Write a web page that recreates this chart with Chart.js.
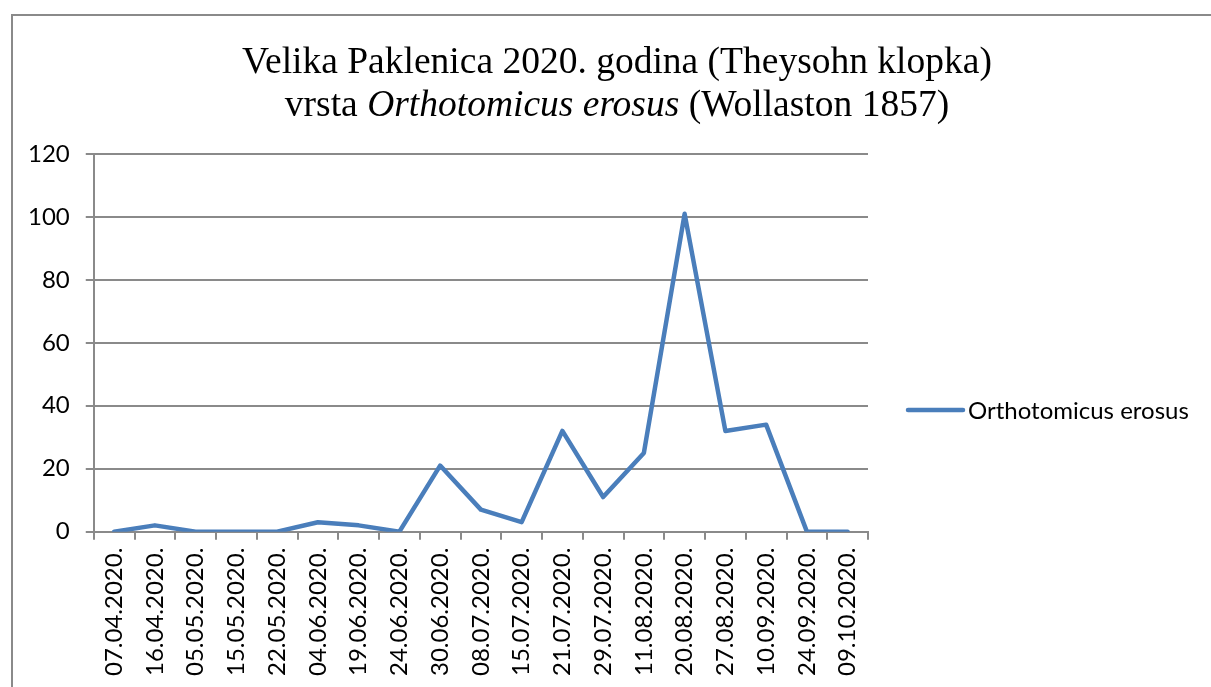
<!DOCTYPE html>
<html lang="hr">
<head>
    <meta charset="UTF-8">
    <title>Velika Paklenica 2020 - Orthotomicus erosus</title>
    <style>
        * { margin: 0; padding: 0; box-sizing: border-box; }
        body { background: #fff; }
        .chart-box { width: 1211px; height: 687px; position: relative; }
    </style>
</head>
<body>
    <div class="chart-box">
        <canvas id="ulovChart"></canvas>
    </div>

    <script src="https://cdn.jsdelivr.net/npm/chart.js"></script>
    <script>
        // Datumi pražnjenja klopke i broj ulovljenih jedinki
        const datumi = ["07.04.2020.", "16.04.2020.", "05.05.2020.", "15.05.2020.", "22.05.2020.",
            "04.06.2020.", "19.06.2020.", "24.06.2020.", "30.06.2020.", "08.07.2020.",
            "15.07.2020.", "21.07.2020.", "29.07.2020.", "11.08.2020.", "20.08.2020.",
            "27.08.2020.", "10.09.2020.", "24.09.2020.", "09.10.2020."];
        const ulov = [0, 2, 0, 0, 0, 3, 2, 0, 21, 7, 3, 32, 11, 25, 101, 32, 34, 0, 0];
        const vrsta = "Orthotomicus erosus";
        const yMax = 120;
        const yKorak = 20;

        const sivo = "#8a8a8a";
        const plavo = "#4a7ebb";
        const labelFont = "Lato";

        // okvir grafikona, naslov u dva reda (drugi red djelomično kurzivom) i legenda desno
        const okvirINaslov = {
            id: "okvirINaslov",
            beforeDraw(chart) {
                const ctx = chart.ctx;
                ctx.save();
                ctx.strokeStyle = sivo;
                ctx.lineWidth = 2;
                ctx.strokeRect(12, 15, 1400, 900);
                ctx.restore();
            },
            afterDraw(chart) {
                const ctx = chart.ctx;
                const cx = 617;
                ctx.save();
                ctx.fillStyle = "#000";
                ctx.textBaseline = "alphabetic";
                ctx.textAlign = "left";

                const obican = "37.5px 'Liberation Serif'";
                const kurziv = "italic 37.5px 'Liberation Serif'";

                ctx.font = obican;
                const red1 = "Velika Paklenica 2020. godina (Theysohn klopka)";
                ctx.fillText(red1, cx - ctx.measureText(red1).width / 2, 73);

                const dijelovi = [["vrsta ", obican], [vrsta, kurziv], [" (Wollaston 1857)", obican]];
                let ukupno = 0;
                dijelovi.forEach(d => { ctx.font = d[1]; ukupno += ctx.measureText(d[0]).width; });
                let x = cx - ukupno / 2;
                dijelovi.forEach(d => {
                    ctx.font = d[1];
                    ctx.fillText(d[0], x, 116);
                    x += ctx.measureText(d[0]).width;
                });

                // legenda
                const ds = chart.data.datasets[0];
                const ly = 410;
                const lx = chart.chartArea.right + 40;
                ctx.strokeStyle = ds.borderColor;
                ctx.lineWidth = ds.borderWidth;
                ctx.lineCap = "round";
                ctx.beginPath();
                ctx.moveTo(lx, ly);
                ctx.lineTo(lx + 55, ly);
                ctx.stroke();
                ctx.font = "24px " + labelFont;
                ctx.textBaseline = "middle";
                ctx.fillText(ds.label, lx + 60, ly + 1);
                ctx.restore();
            }
        };

        new Chart(document.getElementById("ulovChart"), {
            type: "line",
            data: {
                labels: datumi,
                datasets: [{
                    label: vrsta,
                    data: ulov,
                    borderColor: plavo,
                    backgroundColor: plavo,
                    borderWidth: 4.5,
                    borderCapStyle: "round",
                    borderJoinStyle: "round",
                    pointRadius: 0,
                    tension: 0,
                    fill: false
                }]
            },
            options: {
                responsive: true,
                maintainAspectRatio: false,
                animation: false,
                layout: { padding: { top: 154, left: 12, right: 343, bottom: 3 } },
                plugins: {
                    title: { display: false },
                    tooltip: { enabled: false },
                    legend: { display: false }
                },
                scales: {
                    x: {
                        offset: true,
                        grid: {
                            offset: true,
                            drawOnChartArea: false,
                            drawTicks: true,
                            tickLength: 8,
                            color: sivo,
                            lineWidth: 2
                        },
                        border: { color: sivo, width: 2 },
                        ticks: {
                            color: "#000",
                            minRotation: 90,
                            maxRotation: 90,
                            autoSkip: false,
                            padding: 8,
                            font: { family: labelFont, size: 24 }
                        }
                    },
                    y: {
                        min: 0,
                        max: yMax,
                        grid: {
                            color: sivo,
                            lineWidth: 2,
                            tickLength: 8
                        },
                        border: { color: sivo, width: 2 },
                        ticks: {
                            stepSize: yKorak,
                            color: "#000",
                            padding: 16,
                            font: { family: labelFont, size: 24 }
                        }
                    }
                }
            },
            plugins: [okvirINaslov]
        });
    </script>
</body>
</html>
